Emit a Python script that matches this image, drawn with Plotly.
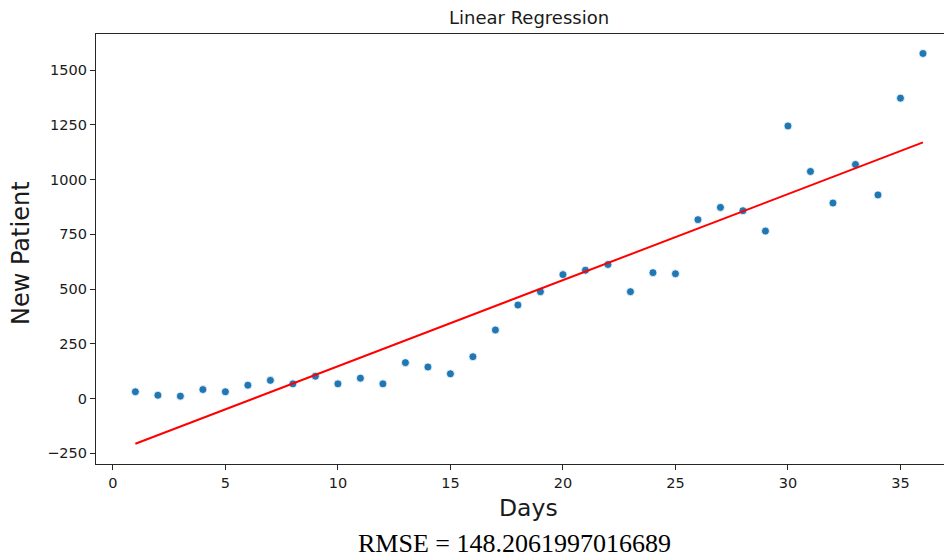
import numpy as np
import plotly.graph_objects as go

days = list(range(1, 37))
new_patients = [31, 15, 11, 41, 31, 61, 83, 67, 102, 67, 93, 67, 164, 144, 113, 191,
                313, 427, 488, 566, 586, 612, 488, 575, 570, 817, 873, 858, 765, 1245,
                1037, 893, 1069, 930, 1372, 1576]
y_ticks = [-250, 0, 250, 500, 750, 1000, 1250, 1500]
y_tick_labels = ["\u2212250", "0", "250", "500", "750", "1000", "1250", "1500"]
x_ticks = [0, 5, 10, 15, 20, 25, 30, 35]
title_text = "Linear Regression"
x_title = "Days"
y_title = "New Patient"
rmse_text = "RMSE = 148.2061997016689"

x = np.array(days, dtype=float)
y = np.array(new_patients, dtype=float)
slope, intercept = np.polyfit(x, y, 1)
fit = slope * x + intercept

fig = go.Figure()
fig.add_trace(go.Scatter(x=days, y=new_patients, mode="markers",
                         marker=dict(color="#1f77b4", size=8,
                                     line=dict(color="white", width=0.8)),
                         showlegend=False))
fig.add_trace(go.Scatter(x=days, y=fit, mode="lines",
                         line=dict(color="red", width=2), showlegend=False))

font = "DejaVu Sans, Verdana, sans-serif"
axis_common = dict(showgrid=False, zeroline=False, showline=True,
                   linecolor="#262626", linewidth=1.2, ticks="outside", ticklen=5,
                   tickcolor="#262626", tickwidth=1.2,
                   tickfont=dict(family=font, size=14.5, color="#1a1a1a"))

# plot area: 856 x 430 px
W, H = 856.0, 430.0
fig.update_layout(
    width=944, height=550,
    margin=dict(l=88, r=0, t=26, b=94),
    plot_bgcolor="white", paper_bgcolor="white",
    font=dict(family=font, color="black", size=14),
    xaxis=dict(range=[-0.75, 37.29], tickvals=x_ticks, mirror=True, **axis_common),
    yaxis=dict(range=[-299, 1665], tickvals=y_ticks, ticktext=y_tick_labels,
               mirror=False, **axis_common),
    annotations=[
        dict(text=title_text, xref="paper", yref="paper",
             x=(529 - 96) / W, y=(464 - 18) / H, xanchor="center", yanchor="middle",
             showarrow=False, font=dict(family=font, size=18, color="#1a1a1a")),
        dict(text=x_title, xref="paper", yref="paper",
             x=(528 - 96) / W, y=-(508 - 464) / H, xanchor="center", yanchor="middle",
             showarrow=False, font=dict(family=font, size=23.5, color="#1a1a1a")),
        dict(text=y_title, xref="paper", yref="paper", textangle=-90,
             x=-(96 - 21) / W, y=(464 - 253) / H, xanchor="center", yanchor="middle",
             showarrow=False, font=dict(family=font, size=24, color="#1a1a1a")),
        dict(text=rmse_text, xref="paper", yref="paper",
             x=(514 - 96) / W, y=-(543 - 464) / H, xanchor="center", yanchor="middle",
             showarrow=False,
             font=dict(family="Liberation Serif, Times New Roman, serif",
                       size=26, color="black")),
    ],
)

fig.write_html("out.html")
